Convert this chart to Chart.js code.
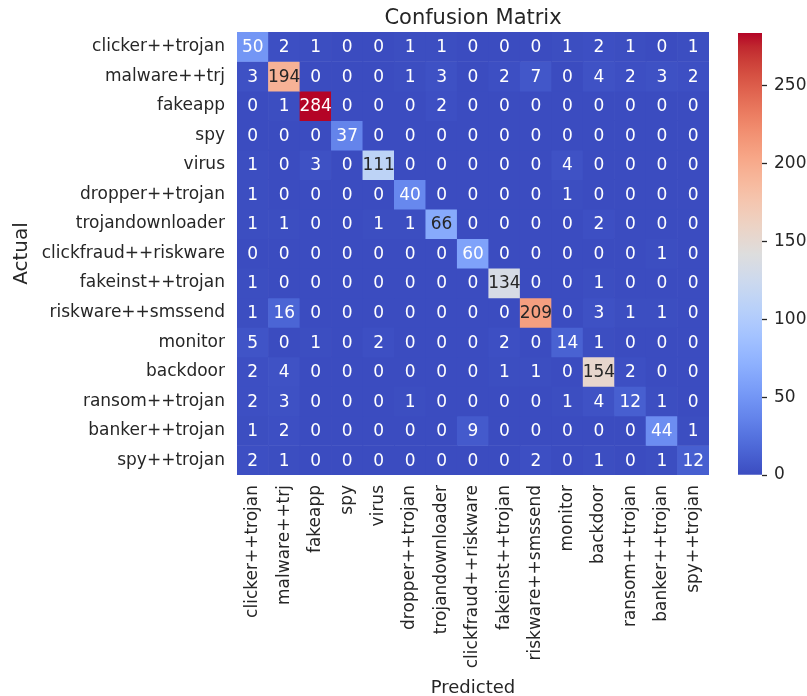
<!DOCTYPE html>
<html>
<head>
<meta charset="utf-8">
<script src="https://cdn.jsdelivr.net/npm/chart.js@4.4.1/dist/chart.umd.min.js"></script>
<style>
  html, body { margin: 0; padding: 0; background: #ffffff; }
  #wrap { position: relative; width: 807px; height: 696px; }
  #heat { position: absolute; left: 0; top: 0; }
  #cbar { position: absolute; left: 720px; top: 0; }
</style>
</head>
<body>
<div id="wrap">
  <canvas id="heat" width="807" height="696"></canvas>
  <canvas id="cbar" width="87" height="696"></canvas>
</div>
<script>
// Class names (rows = actual, columns = predicted)
const classLabels = [
  'clicker++trojan', 'malware++trj', 'fakeapp', 'spy', 'virus',
  'dropper++trojan', 'trojandownloader', 'clickfraud++riskware', 'fakeinst++trojan',
  'riskware++smssend', 'monitor', 'backdoor', 'ransom++trojan', 'banker++trojan', 'spy++trojan'
];

// Confusion counts, one row per actual class
const counts = [
  [50, 2, 1, 0, 0, 1, 1, 0, 0, 0, 1, 2, 1, 0, 1],
  [3, 194, 0, 0, 0, 1, 3, 0, 2, 7, 0, 4, 2, 3, 2],
  [0, 1, 284, 0, 0, 0, 2, 0, 0, 0, 0, 0, 0, 0, 0],
  [0, 0, 0, 37, 0, 0, 0, 0, 0, 0, 0, 0, 0, 0, 0],
  [1, 0, 3, 0, 111, 0, 0, 0, 0, 0, 4, 0, 0, 0, 0],
  [1, 0, 0, 0, 0, 40, 0, 0, 0, 0, 1, 0, 0, 0, 0],
  [1, 1, 0, 0, 1, 1, 66, 0, 0, 0, 0, 2, 0, 0, 0],
  [0, 0, 0, 0, 0, 0, 0, 60, 0, 0, 0, 0, 0, 1, 0],
  [1, 0, 0, 0, 0, 0, 0, 0, 134, 0, 0, 1, 0, 0, 0],
  [1, 16, 0, 0, 0, 0, 0, 0, 0, 209, 0, 3, 1, 1, 0],
  [5, 0, 1, 0, 2, 0, 0, 0, 2, 0, 14, 1, 0, 0, 0],
  [2, 4, 0, 0, 0, 0, 0, 0, 1, 1, 0, 154, 2, 0, 0],
  [2, 3, 0, 0, 0, 1, 0, 0, 0, 0, 1, 4, 12, 1, 0],
  [1, 2, 0, 0, 0, 0, 0, 9, 0, 0, 0, 0, 0, 44, 1],
  [2, 1, 0, 0, 0, 0, 0, 0, 0, 2, 0, 1, 0, 1, 12]
];

// Colour bar tick values
const colorbarTicks = [0, 50, 100, 150, 200, 250];

const FONT = "'DejaVu Sans', sans-serif";
const INK = '#262626';

// Coolwarm diverging colour map, sampled at 33 evenly spaced stops
const coolwarm = [
  [59,76,192],[68,90,204],[77,104,215],[87,117,225],[98,130,234],[108,142,241],
  [119,154,247],[130,165,251],[141,176,254],[152,185,255],[163,194,255],[174,201,253],
  [184,208,249],[194,213,244],[204,217,238],[213,219,230],[221,221,221],[229,216,209],
  [236,211,197],[241,204,185],[245,196,173],[247,187,160],[247,177,148],[247,166,135],
  [244,154,123],[241,141,111],[236,127,99],[229,112,88],[222,96,77],[213,80,66],
  [203,62,56],[192,40,47],[180,4,38]
];

function cmap(t) {
  t = Math.max(0, Math.min(1, t));
  const p = t * (coolwarm.length - 1);
  const i = Math.min(coolwarm.length - 2, Math.floor(p));
  const f = p - i;
  const a = coolwarm[i], b = coolwarm[i + 1];
  return [0, 1, 2].map(k => Math.round(a[k] + (b[k] - a[k]) * f));
}
const rgbStr = c => `rgb(${c[0]},${c[1]},${c[2]})`;

function luminance(c) {
  const lin = c.map(v => {
    v /= 255;
    return v <= 0.03928 ? v / 12.92 : Math.pow((v + 0.055) / 1.055, 2.4);
  });
  return 0.2126 * lin[0] + 0.7152 * lin[1] + 0.0722 * lin[2];
}

const vmin = Math.min(...counts.flat());
const vmax = Math.max(...counts.flat());
const norm = v => (v - vmin) / (vmax - vmin);

// One floating-bar dataset per actual class; each bar spans one row band
const datasets = counts.map((row, r) => ({
  label: classLabels[r],
  data: row.map(() => [r, r + 1]),
  backgroundColor: row.map(v => rgbStr(cmap(norm(v)))),
  borderWidth: 0,
  grouped: false,
  barPercentage: 1,
  categoryPercentage: 1
}));

// Writes the count inside every cell
const cellText = {
  id: 'cellText',
  afterDatasetsDraw(chart) {
    const ctx = chart.ctx;
    ctx.save();
    ctx.font = `17px ${FONT}`;
    ctx.textAlign = 'center';
    ctx.textBaseline = 'middle';
    chart.data.datasets.forEach((ds, r) => {
      chart.getDatasetMeta(r).data.forEach((bar, c) => {
        const v = counts[r][c];
        const col = cmap(norm(v));
        ctx.fillStyle = luminance(col) > 0.408 ? INK : '#ffffff';
        const { x, y, base } = bar.getProps(['x', 'y', 'base'], true);
        ctx.fillText(String(v), x, (y + base) / 2 + 1);
      });
    });
    ctx.restore();
  }
};

new Chart(document.getElementById('heat'), {
  type: 'bar',
  data: { labels: classLabels, datasets },
  options: {
    responsive: false,
    animation: false,
    layout: { padding: { left: 0, right: 98, top: 0, bottom: 0 } },
    plugins: {
      legend: { display: false },
      tooltip: { enabled: false },
      title: {
        display: true,
        text: 'Confusion Matrix',
        fullSize: false,
        color: INK,
        font: { family: FONT, size: 21, weight: 'normal' },
        padding: { top: 6, bottom: 0.8 }
      }
    },
    scales: {
      x: {
        type: 'category',
        grid: { display: false, drawTicks: false },
        border: { display: false },
        ticks: {
          color: INK,
          font: { family: FONT, size: 17 },
          minRotation: 90,
          maxRotation: 90,
          autoSkip: false,
          padding: 10
        },
        title: {
          display: true,
          text: 'Predicted',
          color: INK,
          font: { family: FONT, size: 18 },
          padding: { top: 0, bottom: -3 }
        },
        afterFit(axis) { axis.height = 221; }
      },
      y: {
        type: 'linear',
        min: 0,
        max: classLabels.length,
        reverse: true,
        grid: { display: false, drawTicks: false },
        border: { display: false },
        afterBuildTicks(axis) {
          axis.ticks = classLabels.map((_, i) => ({ value: i + 0.5 }));
        },
        ticks: {
          color: INK,
          font: { family: FONT, size: 17 },
          autoSkip: false,
          padding: 12,
          callback: v => classLabels[Math.floor(v)]
        },
        title: {
          display: true,
          text: 'Actual',
          color: INK,
          font: { family: FONT, size: 20 },
          padding: { top: 9.5, bottom: 0 }
        },
        afterFit(axis) { axis.width = 237; }
      }
    }
  },
  plugins: [cellText]
});

// Colour bar: a single floating bar filled with the colour map gradient
new Chart(document.getElementById('cbar'), {
  type: 'bar',
  data: {
    labels: [''],
    datasets: [{
      data: [[vmin, vmax]],
      borderWidth: 0,
      barPercentage: 1,
      categoryPercentage: 1,
      backgroundColor(ctx) {
        const area = ctx.chart.chartArea;
        if (!area) return rgbStr(coolwarm[0]);
        const g = ctx.chart.ctx.createLinearGradient(0, area.bottom, 0, area.top);
        coolwarm.forEach((c, i) => g.addColorStop(i / (coolwarm.length - 1), rgbStr(c)));
        return g;
      }
    }]
  },
  options: {
    responsive: false,
    animation: false,
    layout: { padding: { left: 18, right: 0, top: 33, bottom: 221 } },
    plugins: { legend: { display: false }, tooltip: { enabled: false } },
    scales: {
      x: { display: false },
      y: {
        position: 'right',
        min: vmin,
        max: vmax,
        grid: {
          display: true,
          drawOnChartArea: false,
          drawTicks: true,
          tickLength: 5,
          tickColor: INK,
          tickWidth: 1.3
        },
        border: { display: false },
        afterBuildTicks(axis) {
          axis.ticks = colorbarTicks.map(v => ({ value: v }));
        },
        ticks: {
          color: INK,
          font: { family: FONT, size: 17 },
          padding: 7
        },
        afterFit(axis) { axis.width = 45; }
      }
    }
  }
});
</script>
</body>
</html>
